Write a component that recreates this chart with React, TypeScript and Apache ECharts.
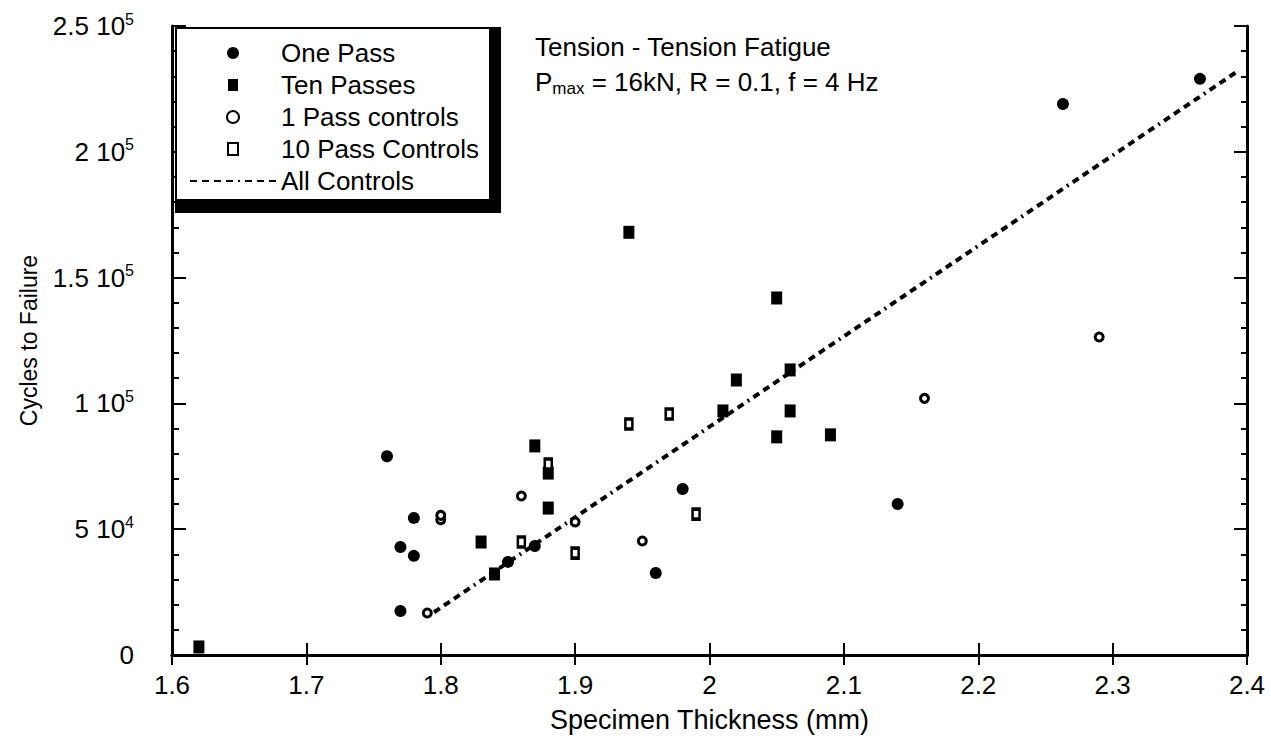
import React, { useEffect, useRef } from "react";
import * as echarts from "echarts";

// ---- data ----
const onePassX = [1.76, 1.78, 1.77, 1.78, 1.77, 1.85, 1.87, 1.98, 1.96, 2.14, 2.263, 2.365];
const onePassY = [79000, 54500, 42900, 39400, 17500, 37000, 43300, 66000, 32600, 60000, 219000, 229000];

const tenPassX = [1.62, 1.83, 1.84, 1.87, 1.88, 1.88, 1.94, 2.01, 2.02, 2.05, 2.06, 2.06, 2.05, 2.09];
const tenPassY = [3200, 44900, 32200, 83100, 72300, 58400, 168000, 97000, 109300, 141900, 113300, 97000, 86700, 87500];

const onePassCtrlX = [1.8, 1.8, 1.79, 1.86, 1.9, 1.95, 2.16, 2.29];
const onePassCtrlY = [53800, 55500, 16700, 63200, 52900, 45300, 102000, 126400];

const tenPassCtrlX = [1.88, 1.86, 1.9, 1.94, 1.97, 1.99];
const tenPassCtrlY = [75900, 44900, 40500, 91800, 95800, 56000];

const allControlsX = [1.795, 2.393];
const allControlsY = [17000, 232000];

const seriesNames = ["One Pass", "Ten Passes", "1 Pass controls", "10 Pass Controls", "All Controls"];

const xTickLabels = ["1.6", "1.7", "1.8", "1.9", "2", "2.1", "2.2", "2.3", "2.4"];
const yTickValues = [0, 50000, 100000, 150000, 200000, 250000];
const yTickMantissa = ["0", "5", "1", "1.5", "2", "2.5"];
const yTickExponent = ["", "4", "5", "5", "5", "5"];

const xTitle = "Specimen Thickness (mm)";
const yTitle = "Cycles to Failure";
const noteLine1 = "Tension - Tension Fatigue";
const noteLine2Sub = "max";
const noteLine2Rest = " = 16kN, R = 0.1, f = 4 Hz";

const FONT = "'Liberation Sans', Arial, Helvetica, sans-serif";
const SQUARE_ICON = "path://M0 0H10V12H0Z";

function zip(xs: number[], ys: number[]) {
  return xs.map((x, i) => [x, ys[i]]);
}

export default function App() {
  const ref = useRef<HTMLDivElement>(null);

  useEffect(() => {
    if (!ref.current) return;
    const chart = echarts.init(ref.current, undefined, { renderer: "svg" });

    const axisLine = { show: true, lineStyle: { color: "#000", width: 3 } };
    const tickStyle = { color: "#000", width: 2 };

    const option: any = {
      animation: false,
      backgroundColor: "#fff",
      grid: { left: 172, right: 24, top: 26, bottom: 91, containLabel: false },
      xAxis: [
        {
          type: "value",
          min: 1.6,
          max: 2.4,
          interval: 0.1,
          position: "bottom",
          axisLine,
          axisTick: { show: true, inside: true, length: 12, lineStyle: tickStyle },
          splitLine: { show: false },
          axisLabel: {
            color: "#000",
            fontSize: 26,
            fontFamily: FONT,
            margin: 17,
            formatter: (v: number) => xTickLabels[Math.round((v - 1.6) / 0.1)] ?? "",
          },
          name: xTitle,
          nameLocation: "middle",
          nameGap: 51,
          nameTextStyle: { color: "#000", fontSize: 27, fontFamily: FONT },
        },
        {
          type: "value",
          min: 1.6,
          max: 2.4,
          interval: 0.1,
          position: "top",
          axisLine,
          axisTick: { show: true, inside: true, length: 10, lineStyle: tickStyle },
          axisLabel: { show: false },
          splitLine: { show: false },
        },
      ],
      yAxis: [
        {
          type: "value",
          min: 0,
          max: 250000,
          interval: 50000,
          position: "left",
          axisLine,
          axisTick: { show: true, inside: true, length: 14, lineStyle: tickStyle },
          minorTick: { show: true, splitNumber: 5, length: 7, lineStyle: tickStyle },
          splitLine: { show: false },
          minorSplitLine: { show: false },
          axisLabel: {
            color: "#000",
            fontFamily: FONT,
            margin: 38,
            formatter: (v: number) => {
              const i = yTickValues.indexOf(Math.round(v));
              if (i < 0) return "";
              if (!yTickExponent[i]) return `{m|${yTickMantissa[i]}}`;
              return `{m|${yTickMantissa[i]} 10}{s|${yTickExponent[i]}}`;
            },
            rich: {
              m: { fontSize: 26, fontFamily: FONT, color: "#000", lineHeight: 30 },
              s: { fontSize: 16, fontFamily: FONT, color: "#000", lineHeight: 14, verticalAlign: "top" },
            },
          },
          name: yTitle,
          nameLocation: "middle",
          nameRotate: 90,
          nameGap: 132,
          nameTextStyle: { color: "#000", fontSize: 23, fontFamily: FONT },
        },
        {
          type: "value",
          min: 0,
          max: 250000,
          interval: 50000,
          position: "right",
          axisLine,
          axisTick: { show: true, inside: true, length: 13, lineStyle: tickStyle },
          minorTick: { show: true, splitNumber: 5, length: 6, lineStyle: tickStyle },
          splitLine: { show: false },
          minorSplitLine: { show: false },
          axisLabel: { show: false },
        },
      ],
      legend: {
        show: true,
        orient: "vertical",
        left: 184,
        top: 35,
        itemWidth: 86,
        itemHeight: 12,
        itemGap: 6,
        symbolKeepAspect: true,
        data: [
          { name: seriesNames[0] },
          { name: seriesNames[1], icon: SQUARE_ICON },
          { name: seriesNames[2] },
          { name: seriesNames[3], icon: SQUARE_ICON },
          { name: seriesNames[4], itemStyle: { opacity: 0 } },
        ],
        textStyle: { color: "#000", fontSize: 26, fontFamily: FONT, lineHeight: 26 },
        z: 20,
      },
      graphic: [
        { type: "rect", shape: { x: 175, y: 27, width: 326, height: 186 }, style: { fill: "#000" }, z: 10 },
        { type: "rect", shape: { x: 177, y: 29, width: 312, height: 170 }, style: { fill: "#fff" }, z: 11 },
        {
          type: "text",
          x: 535,
          y: 47,
          style: { text: noteLine1, fill: "#000", fontSize: 26, fontFamily: FONT, verticalAlign: "middle" },
          z: 12,
        },
        {
          type: "text",
          x: 535,
          y: 82,
          style: {
            text: `{a|P}{b|${noteLine2Sub}}{a|${noteLine2Rest}}`,
            verticalAlign: "middle",
            rich: {
              a: { fontSize: 26, fontFamily: FONT, fill: "#000", lineHeight: 30 },
              b: { fontSize: 17, fontFamily: FONT, fill: "#000", lineHeight: 14, verticalAlign: "bottom" },
            },
          },
          z: 12,
        },
      ],
      series: [
        {
          name: seriesNames[0],
          type: "scatter",
          symbol: "circle",
          symbolSize: 12,
          itemStyle: { color: "#000", opacity: 1 },
          data: zip(onePassX, onePassY),
          z: 5,
        },
        {
          name: seriesNames[1],
          type: "scatter",
          symbol: "rect",
          symbolSize: [11, 13],
          itemStyle: { color: "#000", opacity: 1 },
          data: zip(tenPassX, tenPassY),
          z: 5,
        },
        {
          name: seriesNames[2],
          type: "scatter",
          symbol: "circle",
          symbolSize: 8,
          itemStyle: { color: "#fff", borderColor: "#000", borderWidth: 3, opacity: 1 },
          data: zip(onePassCtrlX, onePassCtrlY),
          z: 6,
        },
        {
          name: seriesNames[3],
          type: "scatter",
          symbol: "rect",
          symbolSize: [7, 10],
          itemStyle: { color: "#fff", borderColor: "#000", borderWidth: 3, opacity: 1 },
          data: zip(tenPassCtrlX, tenPassCtrlY),
          z: 6,
        },
        {
          name: seriesNames[4],
          type: "line",
          symbol: "none",
          itemStyle: { color: "#000" },
          lineStyle: { color: "#000", width: 4, type: [7, 5, 7, 5, 7, 5, 7, 5, 2, 5] },
          data: zip(allControlsX, allControlsY),
          z: 4,
        },
      ],
    };

    chart.setOption(option);
    return () => chart.dispose();
  }, []);

  return (
    <div
      ref={ref}
      style={{ position: "fixed", left: 0, top: 0, width: 1271, height: 746, background: "#fff" }}
    />
  );
}
